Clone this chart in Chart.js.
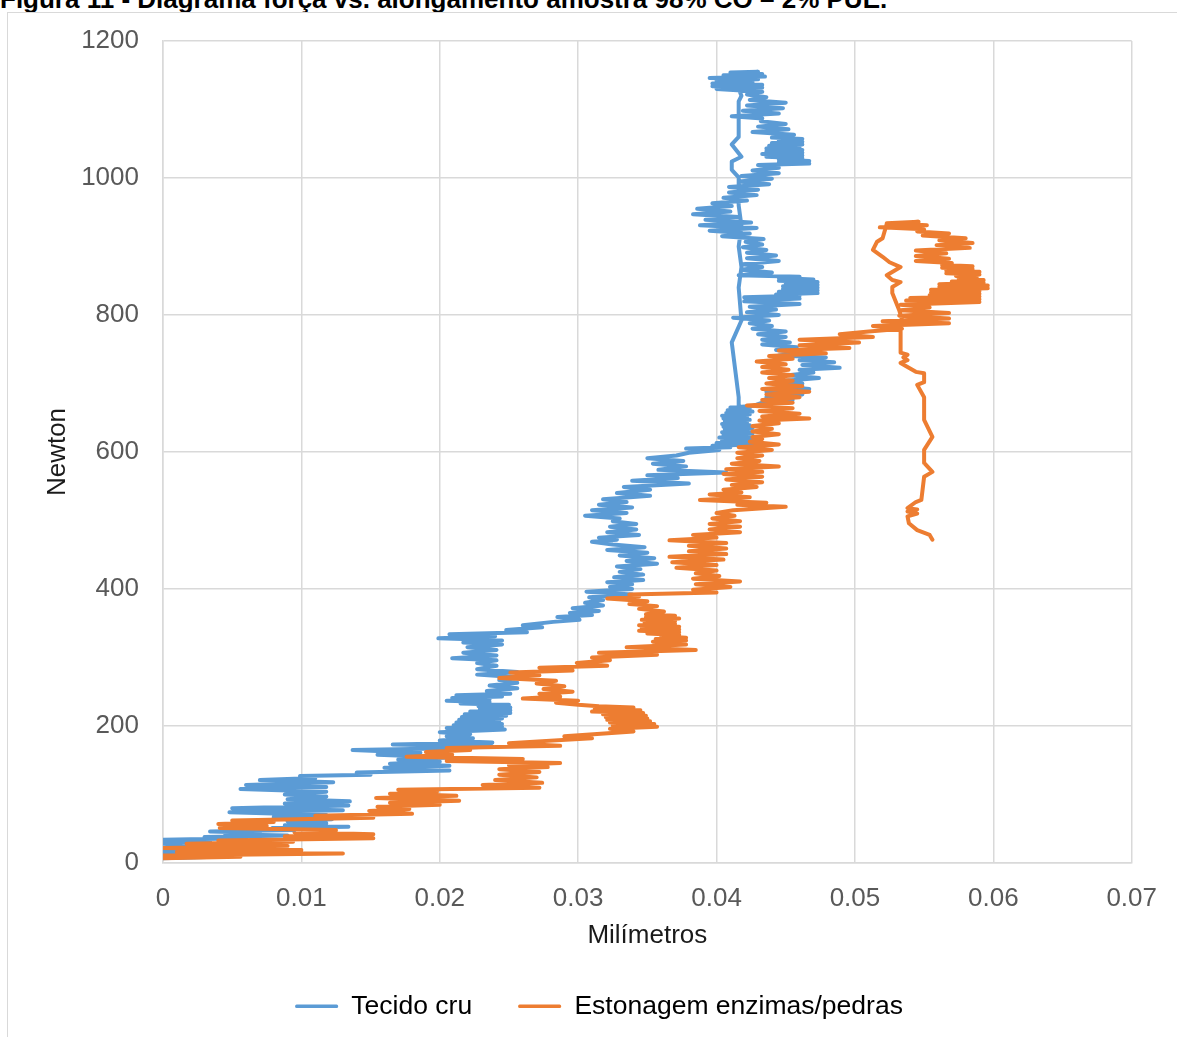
<!DOCTYPE html>
<html>
<head>
<meta charset="utf-8">
<script src="https://cdn.jsdelivr.net/npm/chart.js@4.4.1/dist/chart.umd.min.js"></script>
<style>
  html, body { margin: 0; padding: 0; background: #fff; overflow: hidden; width: 1177px; height: 1037px; }
  #title { position: absolute; left: 0; top: -16px; font: bold 26px "Liberation Sans", Arial, sans-serif; line-height: 30px; color: #000; white-space: nowrap; }
  #frame { position: absolute; left: 7px; top: 12px; width: 1300px; height: 1200px; border: 1px solid #d9d9d9; box-sizing: border-box; }
  #wrap { position: absolute; left: 0; top: 0; width: 1177px; height: 1037px; }
</style>
</head>
<body>
<div id="title">Figura 11 - Diagrama força vs. alongamento amostra 98% CO – 2% PUE.</div>
<div id="frame"></div>
<div id="wrap"><canvas id="c" width="1177" height="1037"></canvas></div>
<script>
// Series names shown in the legend
const seriesNames = ['Tecido cru', 'Estonagem enzimas/pedras'];

// Axis tick labels
const xTickLabels = ['0', '0.01', '0.02', '0.03', '0.04', '0.05', '0.06', '0.07'];
const yTickLabels = ['0', '200', '400', '600', '800', '1000', '1200'];

// Tecido cru: [alongamento (mm), força (N)]
const tecidoCru = [
  [0.0000,7],[0.0038,9],[0.0007,11],[0.0022,13],[0.0000,16],[0.0048,19],[0.0004,22],[0.0020,25],
  [0.0000,28],[0.0034,31],[0.0000,34],[0.0060,36],[0.0030,38],[0.0090,40],[0.0045,42],[0.0070,44],
  [0.0034,46],[0.0095,48],[0.0079,51],[0.0134,53],[0.0088,55],[0.0118,58],[0.0090,61],[0.0122,64],
  [0.0080,67],[0.0118,70],[0.0048,74],[0.0130,77],[0.0050,80],[0.0134,84],[0.0088,87],[0.0135,90],
  [0.0090,93],[0.0118,97],[0.0088,100],[0.0118,104],[0.0056,108],[0.0118,111],[0.0060,114],[0.0123,118],
  [0.0070,121],[0.0110,124],[0.0099,127],[0.0150,129],[0.0140,132],[0.0207,135],[0.0160,139],[0.0207,142],
  [0.0164,145],[0.0200,148],[0.0170,151],[0.0207,154],[0.0155,158],[0.0186,161],[0.0137,165],[0.0200,167],
  [0.0238,170],[0.0166,173],[0.0238,176],[0.0200,179],[0.0224,182],[0.0205,185],[0.0222,188],[0.0200,191],
  [0.0247,195],[0.0205,197],[0.0245,199],[0.0210,201],[0.0245,203],[0.0212,205],[0.0243,207],[0.0214,209],
  [0.0245,211],[0.0216,213],[0.0248,215],[0.0218,217],[0.0251,219],[0.0222,221],[0.0251,223],[0.0229,225],
  [0.0251,227],[0.0228,229],[0.0250,231],[0.0215,233],[0.0236,235],[0.0205,237],[0.0236,239],[0.0209,241],
  [0.0245,243],[0.0212,245],[0.0251,247],[0.0234,251],
  [0.0256,255],[0.0236,259],[0.0256,263],[0.0243,267],[0.0256,271],[0.0227,275],[0.0256,279],[0.0227,283],
  [0.0241,288],[0.0227,292],[0.0241,296],[0.0209,299],[0.0241,303],[0.0217,307],[0.0241,311],[0.0220,315],
  [0.0245,319],[0.0217,322],[0.0245,325],[0.0199,328],[0.0240,331],[0.0207,334],[0.0263,337],[0.0248,340],
  [0.0274,344],[0.0260,347],[0.0282,352],[0.0301,355],[0.0285,359],[0.0310,362],[0.0294,365],[0.0315,368],
  [0.0296,372],[0.0318,376],[0.0305,380],[0.0318,384],[0.0308,388],[0.0339,392],[0.0306,396],[0.0339,400],
  [0.0323,403],[0.0339,407],[0.0321,410],[0.0347,413],[0.0326,417],[0.0347,421],[0.0330,425],[0.0345,429],
  [0.0328,433],[0.0357,437],[0.0335,441],[0.0355,445],[0.0330,449],[0.0350,453],[0.0321,457],[0.0348,461],
  [0.0325,465],[0.0310,469],[0.0328,472],[0.0315,475],[0.0344,479],[0.0321,483],[0.0342,487],[0.0323,491],
  [0.0342,495],[0.0325,499],[0.0330,503],[0.0305,507],[0.0335,511],[0.0310,515],[0.0339,519],[0.0315,523],
  [0.0335,527],[0.0318,531],[0.0352,536],[0.0328,540],[0.0352,545],[0.0333,549],[0.0380,554],[0.0339,558],
  [0.0372,562],[0.0350,566],[0.0407,570],[0.0358,574],[0.0378,579],[0.0354,583],[0.0376,587],[0.0350,591],
  [0.0371,595],[0.0380,599],[0.0402,603],[0.0378,605],[0.0410,607],[0.0397,609],[0.0426,611],[0.0400,613],
  [0.0426,615],[0.0404,617],[0.0426,619],[0.0402,621],[0.0424,623],[0.0405,625],[0.0426,627],[0.0404,629],
  [0.0424,631],[0.0406,633],[0.0426,635],[0.0405,637],[0.0424,639],[0.0404,641],[0.0422,643],[0.0406,645],
  [0.0424,647],[0.0405,649],[0.0422,651],[0.0404,653],[0.0424,655],[0.0407,657],[0.0426,659],[0.0408,661],
  [0.0424,663],[0.0410,665],[0.0426,667],[0.0433,672],[0.0455,676],[0.0436,680],[0.0462,684],
  [0.0436,688],[0.0467,692],[0.0445,696],[0.0462,700],[0.0450,704],[0.0474,708],[0.0452,712],[0.0470,716],
  [0.0460,720],[0.0489,723],[0.0462,727],[0.0485,731],[0.0460,734],[0.0479,738],[0.0445,741],[0.0462,745],
  [0.0443,749],[0.0458,753],[0.0433,757],[0.0453,760],[0.0433,764],[0.0450,768],[0.0430,772],[0.0450,776],
  [0.0426,780],[0.0440,784],[0.0424,788],[0.0438,792],[0.0412,796],[0.0445,800],[0.0422,804],[0.0443,808],
  [0.0424,812],[0.0460,816],[0.0420,820],[0.0460,824],[0.0420,826],[0.0460,828],[0.0443,830],[0.0473,832],
  [0.0445,834],[0.0473,836],[0.0448,838],[0.0473,840],[0.0448,842],[0.0473,844],[0.0450,846],[0.0473,848],
  [0.0445,850],[0.0470,852],[0.0445,854],[0.0460,856],[0.0416,858],[0.0440,862],[0.0418,866],[0.0433,870],
  [0.0419,874],[0.0445,879],[0.0422,883],[0.0443,887],[0.0422,891],[0.0436,895],[0.0419,899],[0.0433,903],
  [0.0421,907],[0.0434,911],[0.0404,915],[0.0424,919],[0.0395,923],[0.0429,927],[0.0388,931],[0.0425,935],
  [0.0392,939],[0.0416,943],[0.0383,947],[0.0410,951],[0.0386,955],[0.0411,959],[0.0397,963],[0.0422,967],
  [0.0405,971],[0.0429,975],[0.0409,979],[0.0430,983],[0.0409,987],[0.0438,991],[0.0416,995],[0.0440,999],
  [0.0418,1003],[0.0445,1007],[0.0426,1011],[0.0445,1015],[0.0430,1019],[0.0467,1021],[0.0445,1023],[0.0467,1025],
  [0.0445,1027],[0.0462,1029],[0.0436,1031],[0.0462,1033],[0.0433,1035],[0.0462,1037],[0.0436,1039],[0.0462,1041],
  [0.0436,1043],[0.0460,1045],[0.0438,1047],[0.0462,1049],[0.0440,1051],[0.0462,1053],[0.0445,1055],[0.0462,1057],
  [0.0440,1059],[0.0456,1063],
  [0.0426,1067],[0.0452,1071],[0.0430,1075],[0.0450,1079],[0.0432,1083],[0.0433,1087],[0.0411,1090],[0.0445,1094],
  [0.0419,1098],[0.0448,1102],[0.0422,1106],[0.0450,1110],[0.0424,1114],[0.0436,1118],[0.0422,1122],[0.0433,1126],
  [0.0400,1130],[0.0433,1132],[0.0397,1134],[0.0433,1136],[0.0397,1138],[0.0426,1140],[0.0400,1142],[0.0430,1144],
  [0.0395,1146],[0.0435,1148],[0.0405,1150],[0.0433,1152],[0.0410,1154],[0.0430,1155],
  [0.0412,1150],[0.0418,1120],[0.0416,1112],[0.0416,1060],[0.0411,1049],[0.0418,1031],[0.0411,1024],[0.0411,1012],
  [0.0416,1001],[0.0416,960],[0.0418,930],[0.0416,900],[0.0418,870],[0.0416,840],[0.0418,792],[0.0411,760],
  [0.0416,680],[0.0416,662]
];

// Estonagem enzimas/pedras: [alongamento (mm), força (N)]
const estonagem = [
  [0.0000,7],[0.0056,9],[0.0000,11],[0.0130,14],[0.0010,16],[0.0100,19],[0.0000,22],[0.0090,25],
  [0.0017,28],[0.0094,31],[0.0040,33],[0.0152,36],[0.0088,39],[0.0152,42],[0.0095,45],[0.0125,48],
  [0.0041,51],[0.0075,54],[0.0040,57],[0.0080,60],[0.0050,62],[0.0152,66],[0.0110,69],[0.0180,72],
  [0.0149,76],[0.0178,79],[0.0155,82],[0.0200,85],[0.0164,88],[0.0214,91],[0.0154,95],[0.0212,98],
  [0.0164,101],[0.0198,104],[0.0170,107],[0.0272,110],[0.0231,114],[0.0274,117],[0.0240,121],[0.0270,125],
  [0.0243,129],[0.0272,133],[0.0243,137],[0.0278,140],[0.0250,143],[0.0287,146],[0.0205,149],[0.0260,152],
  [0.0176,155],[0.0209,158],[0.0190,162],[0.0222,165],[0.0205,168],[0.0287,171],[0.0250,175],[0.0310,182],
  [0.0290,185],[0.0340,192],[0.0323,196],[0.0357,199],[0.0325,201],[0.0355,203],[0.0323,205],[0.0352,207],
  [0.0321,209],[0.0350,211],[0.0320,213],[0.0349,215],[0.0318,217],[0.0347,219],[0.0310,221],[0.0345,223],
  [0.0312,225],[0.0340,227],[0.0315,229],[0.0300,231],[0.0284,234],[0.0300,237],[0.0260,240],
  [0.0287,243],[0.0272,247],[0.0296,250],[0.0275,254],[0.0290,258],[0.0270,262],[0.0284,266],[0.0243,270],
  [0.0272,274],[0.0251,278],[0.0296,281],[0.0272,285],[0.0321,288],[0.0299,292],[0.0323,296],[0.0310,300],
  [0.0357,304],[0.0315,307],[0.0385,311],[0.0335,315],[0.0378,319],[0.0354,323],[0.0378,325],[0.0356,327],
  [0.0378,329],[0.0360,331],[0.0373,333],[0.0350,335],[0.0373,337],[0.0344,339],[0.0373,341],[0.0346,343],
  [0.0373,345],[0.0344,347],[0.0370,349],[0.0348,351],[0.0370,353],[0.0346,355],[0.0373,357],[0.0349,359],
  [0.0370,361],[0.0349,363],[0.0362,367],[0.0344,371],[0.0357,375],[0.0337,378],[0.0350,382],[0.0321,386],
  [0.0344,389],[0.0337,392],
  [0.0400,395],[0.0383,399],[0.0410,403],[0.0385,407],[0.0417,411],[0.0383,415],[0.0402,419],[0.0385,423],
  [0.0400,427],[0.0371,431],[0.0400,435],[0.0368,439],[0.0405,443],[0.0366,447],[0.0407,451],[0.0380,455],
  [0.0407,459],[0.0380,463],[0.0407,467],[0.0366,471],[0.0400,475],[0.0383,479],[0.0417,483],[0.0395,487],
  [0.0417,491],[0.0395,495],[0.0417,499],[0.0397,503],[0.0413,507],[0.0400,511],[0.0412,515],[0.0450,520],
  [0.0415,523],[0.0436,526],[0.0388,530],[0.0424,534],[0.0395,538],[0.0418,541],[0.0405,545],[0.0429,549],
  [0.0411,552],[0.0433,556],[0.0407,560],[0.0433,564],[0.0405,568],[0.0433,571],[0.0407,575],[0.0445,579],
  [0.0411,583],[0.0431,587],[0.0415,591],[0.0433,595],[0.0415,599],[0.0440,603],[0.0416,607],[0.0445,611],
  [0.0424,615],[0.0433,619],[0.0426,622],[0.0445,626],[0.0426,630],[0.0440,634],[0.0426,638],[0.0445,642],
  [0.0431,646],[0.0467,649],[0.0433,652],[0.0460,656],[0.0431,660],[0.0455,664],[0.0422,668],[0.0455,672],
  [0.0433,676],[0.0460,680],[0.0436,684],[0.0467,688],[0.0433,692],[0.0462,696],[0.0436,700],[0.0455,704],
  [0.0438,708],[0.0455,712],[0.0433,716],[0.0452,720],[0.0433,724],[0.0450,728],[0.0429,732],[0.0455,736],
  [0.0438,740],[0.0479,744],[0.0445,748],[0.0496,752],[0.0460,756],[0.0503,760],[0.0460,764],[0.0513,768],
  [0.0489,772],[0.0510,776],[0.0534,780],[0.0513,784],[0.0568,788],[0.0520,791],[0.0568,795],[0.0532,799],
  [0.0568,803],[0.0533,807],[0.0554,811],[0.0533,815],[0.0590,819],[0.0537,821],[0.0590,823],[0.0540,825],
  [0.0590,827],[0.0554,829],[0.0590,831],[0.0555,833],[0.0590,835],[0.0555,837],[0.0596,839],[0.0561,841],
  [0.0596,843],[0.0561,845],[0.0593,847],[0.0570,849],[0.0593,851],[0.0575,853],[0.0588,855],[0.0573,857],
  [0.0590,859],[0.0566,861],[0.0590,863],[0.0566,865],[0.0585,867],[0.0563,869],[0.0585,871],[0.0563,873],
  [0.0570,876],[0.0544,879],[0.0568,882],[0.0544,886],
  [0.0566,890],[0.0544,894],[0.0583,898],[0.0559,902],[0.0585,905],[0.0561,909],[0.0580,912],[0.0549,916],
  [0.0568,919],[0.0545,922],[0.0550,925],[0.0518,928],[0.0552,931],[0.0523,934],[0.0546,936],[0.0523,933],
  [0.0520,912],[0.0516,907],[0.0513,895],[0.0520,885],[0.0525,877],[0.0533,870],[0.0523,858],[0.0527,851],
  [0.0533,848],[0.0527,841],[0.0527,832],[0.0532,807],[0.0534,793],[0.0533,778],[0.0533,745],[0.0538,742],
  [0.0535,738],[0.0538,734],[0.0533,730],[0.0538,724],[0.0544,717],[0.0550,715],[0.0550,702],[0.0545,698],
  [0.0550,680],[0.0550,647],[0.0556,622],[0.0550,603],[0.0550,584],[0.0556,571],[0.0550,564],[0.0548,530],
  [0.0544,527],[0.0538,518],[0.0545,516],[0.0538,513],[0.0545,510],[0.0538,506],[0.0539,496],[0.0545,486],
  [0.0554,479],[0.0556,472]
];

const seriesColors = ['#5B9BD5', '#ED7D31'];

const toPoints = arr => arr.map(([x, y]) => ({ x, y }));

Chart.defaults.font.family = '"Liberation Sans", Arial, Helvetica, sans-serif';

// Moves the legend row so that it sits where the figure places it
const legendOffset = {
  id: 'legendOffset',
  afterLayout(chart) {
    const lg = chart.legend;
    if (lg) { lg.left += 12; lg.right += 12; }
  }
};

const lineStyle = {
  borderWidth: 4,
  pointRadius: 0,
  pointHoverRadius: 0,
  showLine: true,
  tension: 0,
  borderCapStyle: 'round',
  borderJoinStyle: 'round'
};

new Chart(document.getElementById('c'), {
  type: 'scatter',
  data: {
    datasets: [
      Object.assign({
        label: seriesNames[0],
        data: toPoints(tecidoCru),
        borderColor: seriesColors[0],
        backgroundColor: seriesColors[0],
        order: 1
      }, lineStyle),
      Object.assign({
        label: seriesNames[1],
        data: toPoints(estonagem),
        borderColor: seriesColors[1],
        backgroundColor: seriesColors[1],
        order: 0
      }, lineStyle)
    ]
  },
  options: {
    responsive: false,
    animation: false,
    events: [],
    layout: { padding: { top: 41, right: 45, left: 42, bottom: 7.5 } },
    scales: {
      x: {
        type: 'linear',
        min: 0,
        max: 0.07,
        afterFit(scale) { scale.height = 84; },
        ticks: {
          stepSize: 0.01,
          padding: 20,
          color: '#595959',
          font: { size: 26 },
          maxRotation: 0,
          callback: v => xTickLabels[Math.round(v * 100)]
        },
        grid: { color: '#d9d9d9', lineWidth: 1.5, drawTicks: false },
        border: { color: '#d9d9d9', width: 1.5 },
        title: { display: true, text: 'Milímetros', color: '#1a1a1a', font: { size: 26 }, padding: { top: 0, bottom: -4 } }
      },
      y: {
        type: 'linear',
        min: 0,
        max: 1200,
        afterFit(scale) { scale.width = 121; },
        ticks: {
          stepSize: 200,
          padding: 24,
          color: '#595959',
          font: { size: 26 },
          callback: v => yTickLabels[Math.round(v / 200)]
        },
        grid: { color: '#d9d9d9', lineWidth: 1.5, drawTicks: false },
        border: { color: '#d9d9d9', width: 1.5 },
        title: { display: true, text: 'Newton', color: '#1a1a1a', font: { size: 26 }, padding: { top: 0, bottom: 0 } }
      }
    },
    plugins: {
      tooltip: { enabled: false },
      legend: {
        position: 'bottom',
        labels: {
          font: { size: 26.5 },
          color: '#1a1a1a',
          boxWidth: 43,
          boxHeight: 3.5,
          padding: 46,
          generateLabels(chart) {
            return chart.data.datasets.map((ds, i) => ({
              text: ds.label,
              fillStyle: ds.borderColor,
              strokeStyle: ds.borderColor,
              lineWidth: 0,
              borderRadius: 1.5,
              hidden: false,
              datasetIndex: i
            }));
          }
        }
      }
    }
  },
  plugins: [legendOffset]
});
</script>
</body>
</html>
